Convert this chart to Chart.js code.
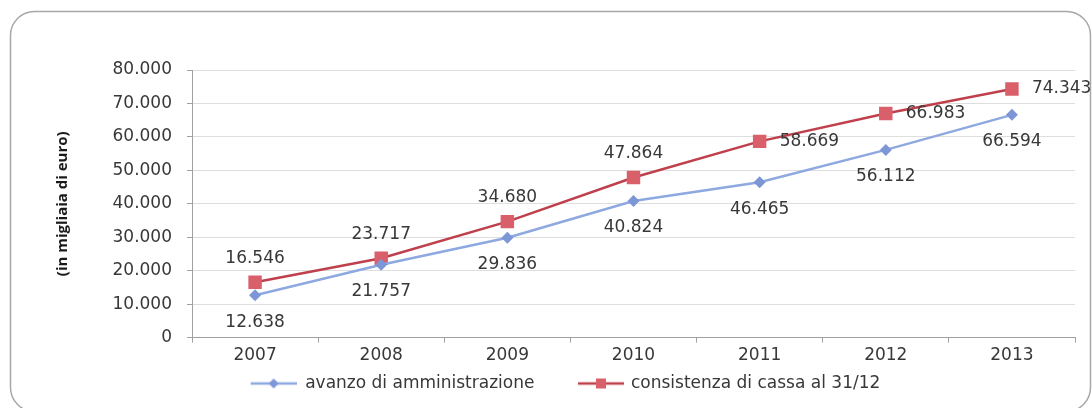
<!DOCTYPE html>
<html>
<head>
<meta charset="utf-8">
<script src="https://cdn.jsdelivr.net/npm/chart.js@4/dist/chart.umd.min.js"></script>
<style>
  html, body { margin: 0; padding: 0; background: #fff; }
  #wrap { width: 1092px; height: 408px; position: relative; }
</style>
</head>
<body>
<div id="wrap"><canvas id="lineChart"></canvas></div>
<script>
// data (in migliaia di euro)
const years = ['2007', '2008', '2009', '2010', '2011', '2012', '2013'];
const avanzo = [12638, 21757, 29836, 40824, 46465, 56112, 66594];
const cassa = [16546, 23717, 34680, 47864, 58669, 66983, 74343];
const yTicks = [0, 10000, 20000, 30000, 40000, 50000, 60000, 70000, 80000];

const blue = '#8ea8e0';
const blueMark = '#7d97d6';
const red = '#bf404c';
const redMark = '#d95f6b';
const txt = '#383838';
const font = 'DejaVu Sans';

function fmt(v) {
  return String(Math.round(v)).replace(/\B(?=(\d{3})+(?!\d))/g, '.');
}

// legend icons: line with marker, lead = empty room on the left
function legendIcon(lineCol, markCol, shape, lead) {
  const c = document.createElement('canvas');
  c.width = lead + 46; c.height = 14;
  const g = c.getContext('2d');
  g.strokeStyle = lineCol;
  g.lineWidth = 2.5;
  g.beginPath(); g.moveTo(lead, 7); g.lineTo(lead + 46, 7); g.stroke();
  g.fillStyle = markCol;
  const m = lead + 23;
  if (shape == 'diamond') {
    g.beginPath(); g.moveTo(m, 2); g.lineTo(m + 5, 7); g.lineTo(m, 12); g.lineTo(m - 5, 7); g.closePath(); g.fill();
  } else {
    g.fillRect(m - 5, 2, 10, 10);
  }
  return c;
}
const icon1 = legendIcon(blue, blueMark, 'diamond', 36);
const icon2 = legendIcon(red, redMark, 'square', 39);

// rounded frame around the whole chart
const framePlugin = {
  id: 'frame',
  beforeDraw(chart) {
    const ctx = chart.ctx;
    ctx.save();
    ctx.strokeStyle = '#a8a8a8';
    ctx.lineWidth = 1.5;
    ctx.beginPath();
    ctx.roundRect(10.5, 11.5, 1080, 400, 24);
    ctx.stroke();
    ctx.restore();
  }
};

// value labels next to points
const valuePlugin = {
  id: 'values',
  afterDatasetsDraw(chart, args, opts) {
    const ctx = chart.ctx;
    ctx.save();
    ctx.font = '17px "' + font + '"';
    ctx.fillStyle = txt;
    ctx.textBaseline = 'middle';
    chart.data.datasets.forEach((ds, di) => {
      const meta = chart.getDatasetMeta(di);
      meta.data.forEach((pt, i) => {
        const where = opts.place[di][i];
        const s = fmt(ds.data[i]);
        if (where == 'right') {
          ctx.textAlign = 'left';
          ctx.fillText(s, pt.x + 20, pt.y);
        } else if (where == 'above') {
          ctx.textAlign = 'center';
          ctx.fillText(s, pt.x, pt.y - 24);
        } else {
          ctx.textAlign = 'center';
          ctx.fillText(s, pt.x, pt.y + 27);
        }
      });
    });
    ctx.restore();
  }
};

new Chart(document.getElementById('lineChart'), {
  type: 'line',
  data: {
    labels: years,
    datasets: [
      {
        label: 'avanzo di amministrazione',
        data: avanzo,
        borderColor: blue,
        borderWidth: 2.5,
        pointStyle: 'rectRot',
        pointRadius: 6,
        pointBackgroundColor: blueMark,
        pointBorderColor: blueMark,
        pointBorderWidth: 0,
        fill: false,
        tension: 0
      },
      {
        label: 'consistenza di cassa al 31/12',
        data: cassa,
        borderColor: red,
        borderWidth: 2.5,
        pointStyle: 'rect',
        pointRadius: 9.5,
        pointBackgroundColor: redMark,
        pointBorderColor: redMark,
        pointBorderWidth: 0,
        fill: false,
        tension: 0
      }
    ]
  },
  options: {
    responsive: true,
    maintainAspectRatio: false,
    animation: false,
    layout: { padding: { left: 20, right: 17, top: 70, bottom: 6 } },
    plugins: {
      tooltip: { enabled: false },
      values: {
        place: [
          ['below', 'below', 'below', 'below', 'below', 'below', 'below'],
          ['above', 'above', 'above', 'above', 'right', 'right', 'right']
        ]
      },
      legend: {
        position: 'bottom',
        labels: {
          usePointStyle: true,
          pointStyleWidth: 82,
          padding: 6,
          color: txt,
          font: { family: font, size: 17 },
          generateLabels(chart) {
            return [
              { text: 'avanzo di amministrazione', pointStyle: icon1, datasetIndex: 0, fontColor: txt, lineWidth: 0, hidden: false },
              { text: 'consistenza di cassa al 31/12', pointStyle: icon2, datasetIndex: 1, fontColor: txt, lineWidth: 0, hidden: false }
            ];
          }
        }
      }
    },
    scales: {
      x: {
        offset: true,
        grid: { offset: true, drawOnChartArea: false, tickLength: 5, color: '#a0a0a0' },
        border: { color: '#a0a0a0' },
        ticks: { color: txt, font: { family: font, size: 17 }, padding: 3 }
      },
      y: {
        min: 0,
        max: 80000,
        afterBuildTicks(scale) { scale.ticks = yTicks.map(v => ({ value: v })); },
        afterFit(scale) { scale.width = 172; },
        grid: { color: '#dedede', tickLength: 5, tickColor: '#a0a0a0' },
        border: { color: '#a0a0a0' },
        ticks: { color: txt, font: { family: font, size: 17 }, padding: 15, callback: v => fmt(v) },
        title: {
          display: true,
          text: '(in migliaia di euro)',
          color: '#1a1a1a',
          font: { family: 'Open Sans', size: 15, weight: 'bold' },
          padding: { top: 34, bottom: 0 }
        }
      }
    }
  },
  plugins: [framePlugin, valuePlugin]
});
</script>
</body>
</html>
